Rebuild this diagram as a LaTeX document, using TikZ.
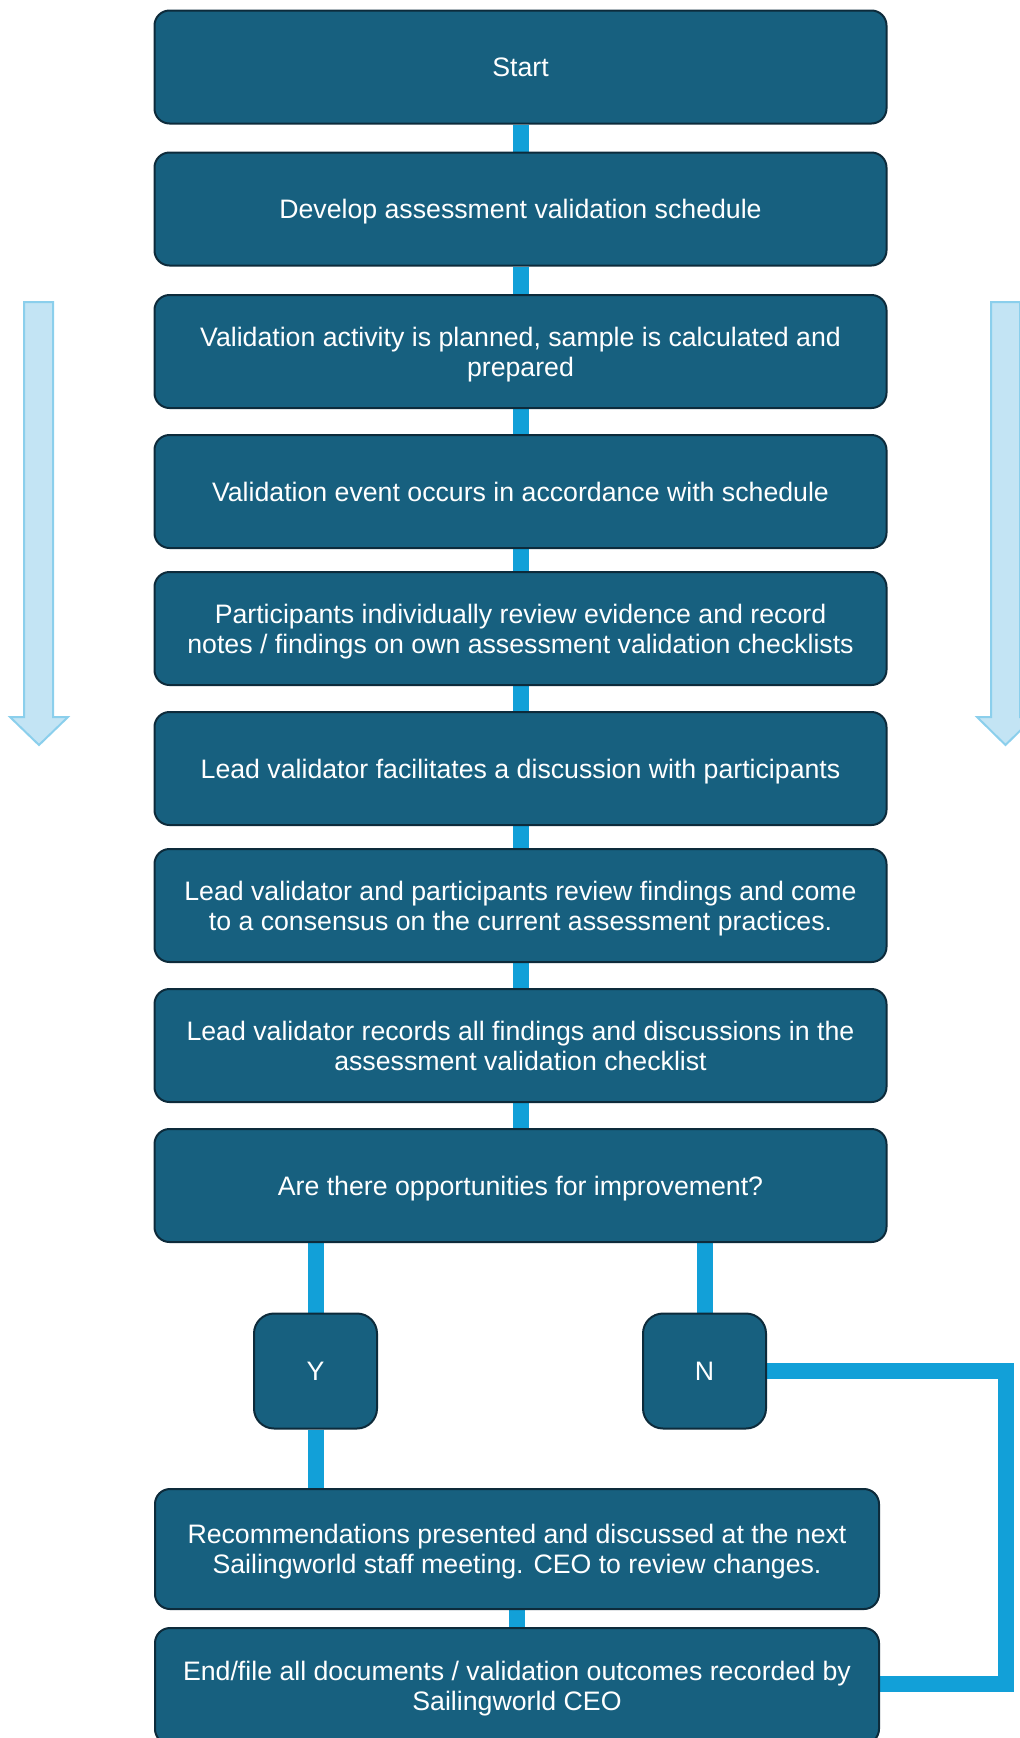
\documentclass[tikz,border=0pt]{standalone}
\usepackage{fontspec}
\setmainfont{Liberation Sans}
\usetikzlibrary{positioning,backgrounds}
\definecolor{vfnavy}    {HTML}{17607F}
\definecolor{vfedge}    {HTML}{0D2B3B}
\definecolor{vflink}    {HTML}{12A0D8}
\definecolor{vfpale}    {HTML}{C3E4F4}
\definecolor{vfpaleline}{HTML}{8BCFEC}
\tikzset{
  vfbox/.style={draw=vfedge, fill=vfnavy, line width=2pt, rounded corners=15pt,
                text=white, align=center, inner sep=0pt, text depth=0pt,
                minimum width=732pt, minimum height=113pt,
                font=\fontsize{26.7}{30}\selectfont},
  vfanswer/.style={vfbox, minimum width=123pt, minimum height=115pt, rounded corners=20pt},
  vflinkline/.style={draw=vflink, line width=16pt, line join=miter},
  vfside/.style={draw=vfpaleline, fill=vfpale, line width=2pt},
}

\begin{document}
\begin{tikzpicture}[x=1pt,y=-1pt]
  \useasboundingbox (0,0) rectangle (1020,1738);

  \node[vfbox] (start)   at (520.5,67)    {Start};
  \node[vfbox] (sched)   at (520.5,209)   {Develop assessment validation schedule};
  \node[vfbox] (plan)    at (520.5,351.5) {Validation activity is planned, sample is calculated and\\prepared};
  \node[vfbox] (event)   at (520.5,491.5) {Validation event occurs in accordance with schedule};
  \node[vfbox] (review)  at (520.5,628.5) {Participants individually review evidence and record\\notes / findings on own assessment validation checklists};
  \node[vfbox] (discuss) at (520.5,768.5) {Lead validator facilitates a discussion with participants};
  \node[vfbox] (agree)   at (520.5,905.5) {Lead validator and participants review findings and come\\to a consensus on the current assessment practices.};
  \node[vfbox] (record)  at (520.5,1045.5) {Lead validator records all findings and discussions in the\\assessment validation checklist};
  \node[vfbox] (ask)     at (520.5,1185.5) {Are there opportunities for improvement?};

  \node[vfanswer] (yes) at (315.5,1371) {Y};
  \node[vfanswer] (no)  at (704.5,1371) {N};

  \node[vfbox, minimum width=724pt, minimum height=120pt] (recom) at (517,1549)
    {Recommendations presented and discussed at the next\\Sailingworld staff meeting. CEO to review changes.};
  \node[vfbox, minimum width=724pt, minimum height=116pt] (finish) at (517,1686)
    {End/file all documents / validation outcomes recorded by\\Sailingworld CEO};

  \coordinate (loop) at (1006,1684);

  \begin{scope}[on background layer]
    \foreach \a/\b in {start/sched, sched/plan, plan/event, event/review,
                       review/discuss, discuss/agree, agree/record, record/ask,
                       recom/finish}
      \draw[vflinkline] (\a.south) -- (\b.north);
    \draw[vflinkline] (ask.south -| yes.north) -- (yes.north);
    \draw[vflinkline] (ask.south -| no.north) -- (no.north);
    \draw[vflinkline] (yes.south) -- (yes.south |- recom.north);
    \draw[vflinkline] (no.east) -| (loop) -- (loop -| finish.east);
  \end{scope}

  % direction arrows on both sides
  \draw[vfside] (24,302) -- (53,302) -- (53,717) -- (68,717) -- (39,745)
    -- (10,717) -- (24,717) -- cycle;
  \draw[vfside] (991,302) -- (1020,302) -- (1020,717) -- (1034,717) -- (1005.5,745)
    -- (977,717) -- (991,717) -- cycle;
\end{tikzpicture}
\end{document}
